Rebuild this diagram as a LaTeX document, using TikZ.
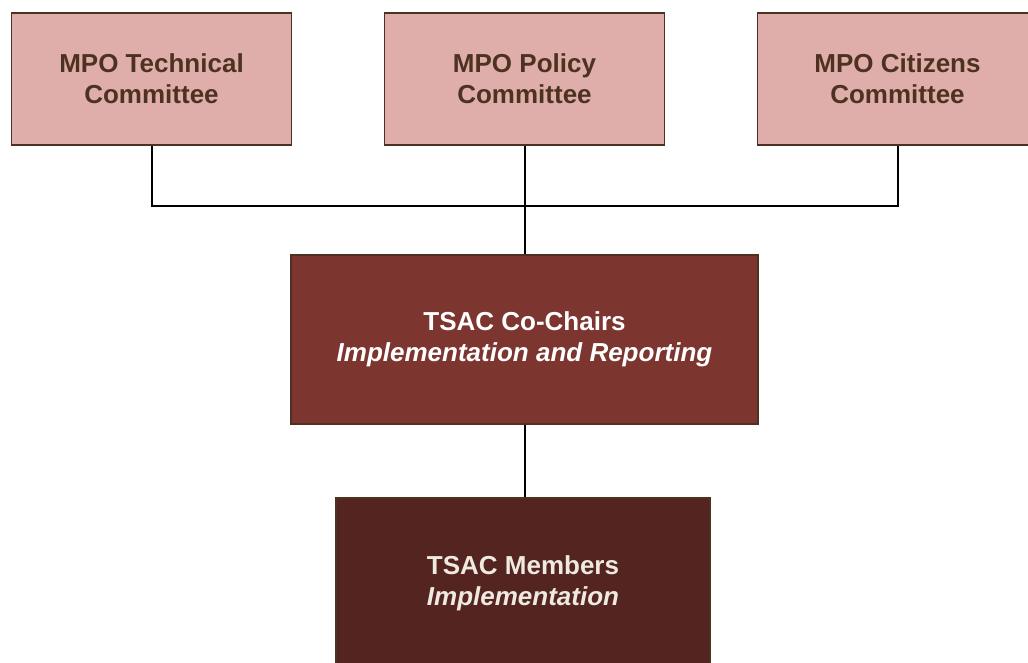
\documentclass[tikz,border=0pt]{standalone}
\usepackage{fontspec}
\setmainfont{Liberation Sans}
\definecolor{pinkfill}{HTML}{DFAEAB}
\definecolor{brownline}{HTML}{4E3221}
\definecolor{chairfill}{HTML}{7D3530}
\definecolor{memfill}{HTML}{542421}
\definecolor{cream}{HTML}{EEEAE0}
\tikzset{
  box/.style={draw=brownline, line width=1.6pt, align=center, font=\fontsize{26}{31}\selectfont\bfseries, inner sep=0pt},
  topbox/.style={box, fill=pinkfill, text=brownline, minimum width=280pt, minimum height=132pt},
  conn/.style={draw=black, line width=2pt},
}
\begin{document}
\begin{tikzpicture}[x=1pt,y=-1pt]
\clip (0,0) rectangle (1028,663);
\useasboundingbox (0,0) rectangle (1028,663);
\node[topbox] (tech) at (151.5,79) {MPO Technical\\Committee};
\node[topbox] (policy) at (524.5,79) {MPO Policy\\Committee};
\node[topbox] (cit) at (897.5,79) {MPO Citizens\\Committee};
\node[box, fill=chairfill, text=white, minimum width=467pt, minimum height=169pt] (chairs) at (524.5,339.5) {TSAC Co-Chairs\\\textit{Implementation and Reporting}};
\node[box, fill=memfill, text=cream, minimum width=374pt, minimum height=170pt] (mem) at (523,583) {TSAC Members\\\textit{Implementation}};
\coordinate (jl) at (151.5,206.5);
\coordinate (jr) at (897.5,206.5);
\draw[conn] (tech.south) -- (jl) -- (jr) -- (cit.south);
\draw[conn] (policy.south) -- (chairs.north);
\draw[conn] (chairs.south) -- (chairs.south |- mem.north);
\end{tikzpicture}
\end{document}
